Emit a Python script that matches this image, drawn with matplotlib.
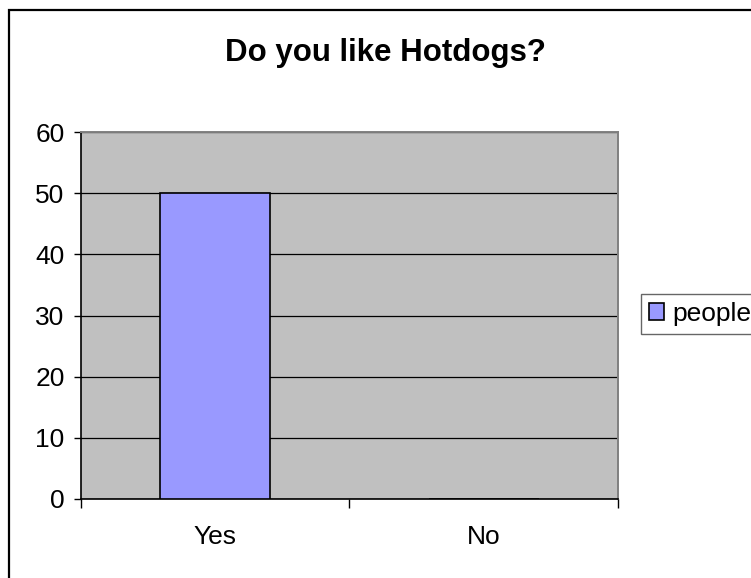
import matplotlib.pyplot as plt
from matplotlib.patches import Rectangle, Patch

plt.rcParams['font.family'] = ['Liberation Sans', 'DejaVu Sans']

answers = ['Yes', 'No']
people = [50, 0]
series_name = 'people'
yticks = [0, 10, 20, 30, 40, 50, 60]

fig = plt.figure(figsize=(7.51, 5.78), dpi=100)
fig.patch.set_facecolor('white')

# outer chart frame (runs off the right and bottom edges)
fig.patches.append(Rectangle((8.5 / 751, -0.5), 2, 1.5 - 10 / 578,
                             transform=fig.transFigure, fill=False,
                             ec='black', lw=1.6))

ax = fig.add_axes([80.5 / 751, 79 / 578, 537.5 / 751, 367 / 578])
ax.set_facecolor('#c0c0c0')

pos = list(range(len(answers)))
ax.bar(pos, people, width=0.41, color='#9999ff', edgecolor='black',
       linewidth=1.2, zorder=3)

ax.set_xlim(-0.5, len(answers) - 0.5)
ax.set_ylim(0, 60)
ax.set_yticks(yticks)
ax.yaxis.grid(True, color='black', linewidth=0.9, zorder=1)
ax.set_axisbelow(True)

ax.set_xticks(pos)
ax.set_xticklabels(answers)
ax.set_xticks([p - 0.5 for p in pos] + [len(answers) - 0.5], minor=True)
ax.tick_params(axis='x', which='major', length=0, pad=19, labelsize=19)
ax.tick_params(axis='x', which='minor', length=6.5, width=1, color='black',
               direction='out')
ax.tick_params(axis='y', length=5, width=1, color='black', direction='out',
               pad=6.5, labelsize=19)

for side in ['left', 'bottom']:
    ax.spines[side].set_color('black')
    ax.spines[side].set_linewidth(1.2)
for side in ['top', 'right']:
    ax.spines[side].set_color('#808080')
    ax.spines[side].set_linewidth(1.4)

fig.text(385 / 751, 1 - 61 / 578, 'Do you like Hotdogs?', ha='center',
         va='baseline', fontsize=22.5, fontweight='bold')

handle = Patch(facecolor='#9999ff', edgecolor='black', linewidth=1.2,
               label=series_name)
leg = fig.legend(handles=[handle], loc='upper left',
                 bbox_to_anchor=(641 / 751, 1 - 294 / 578),
                 fontsize=19, frameon=True, fancybox=False, shadow=False,
                 handlelength=0.58, handleheight=0.58, handletextpad=0.3,
                 borderpad=0.3, borderaxespad=0)
leg.get_frame().set_edgecolor('#404040')
leg.get_frame().set_linewidth(1.0)

fig.savefig('out.png', dpi=100)
